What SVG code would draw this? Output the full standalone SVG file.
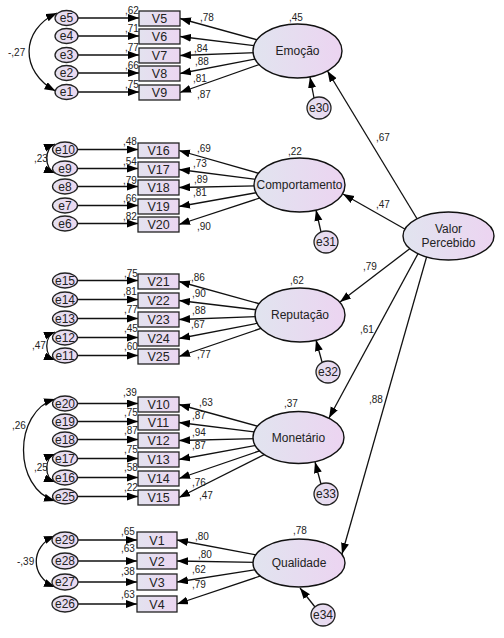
<svg xmlns="http://www.w3.org/2000/svg" width="504" height="638" viewBox="0 0 504 638">
<defs>
<linearGradient id="latG" x1="0" y1="0" x2="1" y2="0"><stop offset="0" stop-color="#e1e4ef"/><stop offset="1" stop-color="#ecd4f1"/></linearGradient>
<linearGradient id="boxG" x1="0" y1="0" x2="1" y2="0"><stop offset="0" stop-color="#e3e2ef"/><stop offset="1" stop-color="#ebd6f1"/></linearGradient>
<linearGradient id="errG" x1="0" y1="0" x2="1" y2="0"><stop offset="0" stop-color="#e4e0ef"/><stop offset="1" stop-color="#ebd8f1"/></linearGradient>
<marker id="ah" markerUnits="userSpaceOnUse" markerWidth="12" markerHeight="9" refX="11" refY="4" orient="auto-start-reverse"><path d="M0,0 L11,4 L0,8 z" fill="#000"/></marker>
</defs>
<style>
.c{fill:none;stroke:#111;stroke-width:1.3;marker-end:url(#ah)}
.cv{fill:none;stroke:#111;stroke-width:1.3;marker-start:url(#ah);marker-end:url(#ah)}
.lat{fill:url(#latG);stroke:#111;stroke-width:1.4}
.box{fill:url(#boxG);stroke:#222;stroke-width:1.3}
.err{fill:url(#errG);stroke:#222;stroke-width:1.3}
text{font-family:"Liberation Sans",Arial,sans-serif;fill:#222}
.lt{font-size:12px;text-anchor:middle}
.bt{font-size:12.5px;text-anchor:middle}
.et{font-size:12px;text-anchor:middle}
.n{font-size:10px}
</style>
<rect width="504" height="638" fill="#fff"/>
<g id="connectors">
<path class="c" d="M78,18 H139"/>
<path class="c" d="M78,36 H139"/>
<path class="c" d="M78,55 H139"/>
<path class="c" d="M78,73 H139"/>
<path class="c" d="M78,92 H139"/>
<path class="c" d="M297.5,51 L180,18.5"/>
<path class="c" d="M297.5,51 L180,36.5"/>
<path class="c" d="M297.5,51 L180,55.5"/>
<path class="c" d="M297.5,51 L180,73.5"/>
<path class="c" d="M297.5,51 L180,92.5"/>
<path class="cv" d="M57,13 C20,30 20,72 55.5,91"/>
<path class="c" d="M77.5,149.5 H138"/>
<path class="c" d="M77.5,168.5 H138"/>
<path class="c" d="M77.5,186.5 H138"/>
<path class="c" d="M77.5,205.5 H138"/>
<path class="c" d="M77.5,223.5 H138"/>
<path class="c" d="M299.5,185 L179,150.5"/>
<path class="c" d="M299.5,185 L179,169.5"/>
<path class="c" d="M299.5,185 L179,187.5"/>
<path class="c" d="M299.5,185 L179,206.5"/>
<path class="c" d="M299.5,185 L179,224.5"/>
<path class="cv" d="M55,144 C44,148 44,169 55,173"/>
<path class="c" d="M77.5,280.5 H138"/>
<path class="c" d="M77.5,299.5 H138"/>
<path class="c" d="M77.5,318.5 H138"/>
<path class="c" d="M77.5,337.5 H138"/>
<path class="c" d="M77.5,355.5 H138"/>
<path class="c" d="M300,315 L179,281.5"/>
<path class="c" d="M300,315 L179,300.5"/>
<path class="c" d="M300,315 L179,319.5"/>
<path class="c" d="M300,315 L179,338.5"/>
<path class="c" d="M300,315 L179,356.5"/>
<path class="cv" d="M55,332 C44,336 44,356 55,360"/>
<path class="c" d="M77.5,403.5 H138"/>
<path class="c" d="M77.5,421.5 H138"/>
<path class="c" d="M77.5,439.5 H138"/>
<path class="c" d="M77.5,458.5 H138"/>
<path class="c" d="M77.5,477.5 H138"/>
<path class="c" d="M77.5,496.5 H138"/>
<path class="c" d="M298.5,437.5 L179,404.5"/>
<path class="c" d="M298.5,437.5 L179,422.5"/>
<path class="c" d="M298.5,437.5 L179,440.5"/>
<path class="c" d="M298.5,437.5 L179,459.5"/>
<path class="c" d="M298.5,437.5 L179,478.5"/>
<path class="c" d="M298.5,437.5 L179,497.5"/>
<path class="cv" d="M55,399 C13,412 13,488 55,501"/>
<path class="cv" d="M55,454 C44,458 44,478 55,482"/>
<path class="c" d="M78,540 H137"/>
<path class="c" d="M78,561 H137"/>
<path class="c" d="M78,582 H137"/>
<path class="c" d="M78,604 H137"/>
<path class="c" d="M299,563 L177,540"/>
<path class="c" d="M299,563 L177,561"/>
<path class="c" d="M299,563 L177,582"/>
<path class="c" d="M299,563 L177,604"/>
<path class="cv" d="M55,536 C30,546 30,577 55,587"/>
<path class="c" d="M419,222 L327.5,71"/>
<path class="c" d="M410,232 L343,194"/>
<path class="c" d="M412,247 L340,302"/>
<path class="c" d="M420,250 L329,418"/>
<path class="c" d="M428,252 L342,554"/>
<path class="c" d="M314,98 L310,77"/>
<path class="c" d="M321,232 L316,210"/>
<path class="c" d="M322,362 L316,340"/>
<path class="c" d="M321,484 L315,462"/>
<path class="c" d="M315,607 L300,588"/>
</g>
<g id="labels">
<text class="n" x="125" y="14">,62</text>
<text class="n" x="125" y="32">,71</text>
<text class="n" x="125" y="51">,77</text>
<text class="n" x="125" y="69">,66</text>
<text class="n" x="125" y="88">,75</text>
<text class="n" x="200" y="21">,78</text>
<text class="n" x="194" y="52">,84</text>
<text class="n" x="195" y="65">,88</text>
<text class="n" x="193" y="82">,81</text>
<text class="n" x="197" y="98">,87</text>
<text class="n" x="8" y="56">-,27</text>
<text class="n" x="289" y="21">,45</text>
<text class="n" x="123" y="145">,48</text>
<text class="n" x="123" y="165">,54</text>
<text class="n" x="123" y="184">,79</text>
<text class="n" x="123" y="202">,66</text>
<text class="n" x="123" y="220">,82</text>
<text class="n" x="197" y="152">,69</text>
<text class="n" x="193" y="167">,73</text>
<text class="n" x="194" y="183">,89</text>
<text class="n" x="193" y="196">,81</text>
<text class="n" x="197" y="230">,90</text>
<text class="n" x="34" y="162">,23</text>
<text class="n" x="288" y="155">,22</text>
<text class="n" x="124" y="277">,75</text>
<text class="n" x="123" y="295">,81</text>
<text class="n" x="124" y="313">,77</text>
<text class="n" x="124" y="332">,45</text>
<text class="n" x="124" y="350">,60</text>
<text class="n" x="191" y="281">,86</text>
<text class="n" x="192" y="297">,90</text>
<text class="n" x="192" y="314">,88</text>
<text class="n" x="191" y="328">,67</text>
<text class="n" x="197" y="358">,77</text>
<text class="n" x="32" y="349">,47</text>
<text class="n" x="290" y="284">,62</text>
<text class="n" x="123" y="396">,39</text>
<text class="n" x="124" y="416">,75</text>
<text class="n" x="124" y="434">,87</text>
<text class="n" x="124" y="453">,75</text>
<text class="n" x="124" y="471">,58</text>
<text class="n" x="124" y="491">,22</text>
<text class="n" x="199" y="406">,63</text>
<text class="n" x="192" y="419">,87</text>
<text class="n" x="192" y="436">,94</text>
<text class="n" x="192" y="449">,87</text>
<text class="n" x="192" y="486">,76</text>
<text class="n" x="199" y="499">,47</text>
<text class="n" x="12" y="429">,26</text>
<text class="n" x="34" y="471">,25</text>
<text class="n" x="284" y="407">,37</text>
<text class="n" x="121" y="535">,65</text>
<text class="n" x="121" y="552">,63</text>
<text class="n" x="121" y="575">,38</text>
<text class="n" x="121" y="598">,63</text>
<text class="n" x="195" y="540">,80</text>
<text class="n" x="198" y="558">,80</text>
<text class="n" x="192" y="573">,62</text>
<text class="n" x="192" y="588">,79</text>
<text class="n" x="17" y="565">-,39</text>
<text class="n" x="293" y="534">,78</text>
<text class="n" x="376" y="141">,67</text>
<text class="n" x="376" y="208">,47</text>
<text class="n" x="363" y="270">,79</text>
<text class="n" x="360" y="333">,61</text>
<text class="n" x="369" y="403">,88</text>
</g>
<g id="e5"><ellipse class="err" cx="66.5" cy="18" rx="11.5" ry="7.5"/><text class="et" x="66.5" y="22">e5</text></g>
<g id="e4"><ellipse class="err" cx="66.5" cy="36" rx="11.5" ry="7.5"/><text class="et" x="66.5" y="40">e4</text></g>
<g id="e3"><ellipse class="err" cx="66.5" cy="55" rx="11.5" ry="7.5"/><text class="et" x="66.5" y="59">e3</text></g>
<g id="e2"><ellipse class="err" cx="66.5" cy="73" rx="11.5" ry="7.5"/><text class="et" x="66.5" y="77">e2</text></g>
<g id="e1"><ellipse class="err" cx="66.5" cy="92" rx="11.5" ry="7.5"/><text class="et" x="66.5" y="96">e1</text></g>
<g id="V5"><rect class="box" x="139" y="11" width="41" height="15"/><text class="bt" x="159.5" y="23">V5</text></g>
<g id="V6"><rect class="box" x="139" y="29" width="41" height="15"/><text class="bt" x="159.5" y="41">V6</text></g>
<g id="V7"><rect class="box" x="139" y="48" width="41" height="15"/><text class="bt" x="159.5" y="60">V7</text></g>
<g id="V8"><rect class="box" x="139" y="66" width="41" height="15"/><text class="bt" x="159.5" y="78">V8</text></g>
<g id="V9"><rect class="box" x="139" y="85" width="41" height="15"/><text class="bt" x="159.5" y="97">V9</text></g>
<g id="Emocao"><ellipse class="lat" cx="297.5" cy="51" rx="44.5" ry="27"/><text class="lt" x="297.5" y="55">Emoção</text></g>
<g id="e30"><ellipse class="err" cx="319" cy="108" rx="12" ry="11"/><text class="et" x="319" y="112">e30</text></g>
<g id="e10"><ellipse class="err" cx="65" cy="149.5" rx="12.5" ry="7.5"/><text class="et" x="65" y="153.5">e10</text></g>
<g id="e9"><ellipse class="err" cx="65" cy="168.5" rx="12.5" ry="7.5"/><text class="et" x="65" y="172.5">e9</text></g>
<g id="e8"><ellipse class="err" cx="65" cy="186.5" rx="12.5" ry="7.5"/><text class="et" x="65" y="190.5">e8</text></g>
<g id="e7"><ellipse class="err" cx="65" cy="205.5" rx="12.5" ry="7.5"/><text class="et" x="65" y="209.5">e7</text></g>
<g id="e6"><ellipse class="err" cx="65" cy="223.5" rx="12.5" ry="7.5"/><text class="et" x="65" y="227.5">e6</text></g>
<g id="V16"><rect class="box" x="138" y="143" width="41" height="15"/><text class="bt" x="158.5" y="155">V16</text></g>
<g id="V17"><rect class="box" x="138" y="162" width="41" height="15"/><text class="bt" x="158.5" y="174">V17</text></g>
<g id="V18"><rect class="box" x="138" y="180" width="41" height="15"/><text class="bt" x="158.5" y="192">V18</text></g>
<g id="V19"><rect class="box" x="138" y="199" width="41" height="15"/><text class="bt" x="158.5" y="211">V19</text></g>
<g id="V20"><rect class="box" x="138" y="217" width="41" height="15"/><text class="bt" x="158.5" y="229">V20</text></g>
<g id="Comportamento"><ellipse class="lat" cx="299.5" cy="185" rx="45.5" ry="27"/><text class="lt" x="299.5" y="189">Comportamento</text></g>
<g id="e31"><ellipse class="err" cx="326" cy="242" rx="12" ry="11"/><text class="et" x="326" y="246">e31</text></g>
<g id="e15"><ellipse class="err" cx="65" cy="280.5" rx="12.5" ry="7.5"/><text class="et" x="65" y="284.5">e15</text></g>
<g id="e14"><ellipse class="err" cx="65" cy="299.5" rx="12.5" ry="7.5"/><text class="et" x="65" y="303.5">e14</text></g>
<g id="e13"><ellipse class="err" cx="65" cy="318.5" rx="12.5" ry="7.5"/><text class="et" x="65" y="322.5">e13</text></g>
<g id="e12"><ellipse class="err" cx="65" cy="337.5" rx="12.5" ry="7.5"/><text class="et" x="65" y="341.5">e12</text></g>
<g id="e11"><ellipse class="err" cx="65" cy="355.5" rx="12.5" ry="7.5"/><text class="et" x="65" y="359.5">e11</text></g>
<g id="V21"><rect class="box" x="138" y="274" width="41" height="15"/><text class="bt" x="158.5" y="286">V21</text></g>
<g id="V22"><rect class="box" x="138" y="293" width="41" height="15"/><text class="bt" x="158.5" y="305">V22</text></g>
<g id="V23"><rect class="box" x="138" y="312" width="41" height="15"/><text class="bt" x="158.5" y="324">V23</text></g>
<g id="V24"><rect class="box" x="138" y="331" width="41" height="15"/><text class="bt" x="158.5" y="343">V24</text></g>
<g id="V25"><rect class="box" x="138" y="349" width="41" height="15"/><text class="bt" x="158.5" y="361">V25</text></g>
<g id="Reputacao"><ellipse class="lat" cx="300" cy="315" rx="45" ry="27"/><text class="lt" x="300" y="319">Reputação</text></g>
<g id="e32"><ellipse class="err" cx="328" cy="372" rx="12" ry="11"/><text class="et" x="328" y="376">e32</text></g>
<g id="e20"><ellipse class="err" cx="65" cy="403.5" rx="12.5" ry="7.5"/><text class="et" x="65" y="407.5">e20</text></g>
<g id="e19"><ellipse class="err" cx="65" cy="421.5" rx="12.5" ry="7.5"/><text class="et" x="65" y="425.5">e19</text></g>
<g id="e18"><ellipse class="err" cx="65" cy="439.5" rx="12.5" ry="7.5"/><text class="et" x="65" y="443.5">e18</text></g>
<g id="e17"><ellipse class="err" cx="65" cy="458.5" rx="12.5" ry="7.5"/><text class="et" x="65" y="462.5">e17</text></g>
<g id="e16"><ellipse class="err" cx="65" cy="477.5" rx="12.5" ry="7.5"/><text class="et" x="65" y="481.5">e16</text></g>
<g id="e25"><ellipse class="err" cx="65" cy="496.5" rx="12.5" ry="7.5"/><text class="et" x="65" y="500.5">e25</text></g>
<g id="V10"><rect class="box" x="138" y="397" width="41" height="15"/><text class="bt" x="158.5" y="409">V10</text></g>
<g id="V11"><rect class="box" x="138" y="415" width="41" height="15"/><text class="bt" x="158.5" y="427">V11</text></g>
<g id="V12"><rect class="box" x="138" y="433" width="41" height="15"/><text class="bt" x="158.5" y="445">V12</text></g>
<g id="V13"><rect class="box" x="138" y="452" width="41" height="15"/><text class="bt" x="158.5" y="464">V13</text></g>
<g id="V14"><rect class="box" x="138" y="471" width="41" height="15"/><text class="bt" x="158.5" y="483">V14</text></g>
<g id="V15"><rect class="box" x="138" y="490" width="41" height="15"/><text class="bt" x="158.5" y="502">V15</text></g>
<g id="Monetario"><ellipse class="lat" cx="298.5" cy="437.5" rx="45.5" ry="26"/><text class="lt" x="298.5" y="441.5">Monetário</text></g>
<g id="e33"><ellipse class="err" cx="326" cy="494" rx="12" ry="11"/><text class="et" x="326" y="498">e33</text></g>
<g id="e29"><ellipse class="err" cx="65" cy="540" rx="13" ry="8"/><text class="et" x="65" y="544">e29</text></g>
<g id="e28"><ellipse class="err" cx="65" cy="561" rx="13" ry="8"/><text class="et" x="65" y="565">e28</text></g>
<g id="e27"><ellipse class="err" cx="65" cy="582" rx="13" ry="8"/><text class="et" x="65" y="586">e27</text></g>
<g id="e26"><ellipse class="err" cx="65" cy="604" rx="13" ry="8"/><text class="et" x="65" y="608">e26</text></g>
<g id="V1"><rect class="box" x="137" y="532" width="40" height="16"/><text class="bt" x="157" y="544.5">V1</text></g>
<g id="V2"><rect class="box" x="137" y="553" width="40" height="16"/><text class="bt" x="157" y="565.5">V2</text></g>
<g id="V3"><rect class="box" x="137" y="574" width="40" height="16"/><text class="bt" x="157" y="586.5">V3</text></g>
<g id="V4"><rect class="box" x="137" y="596" width="40" height="16"/><text class="bt" x="157" y="608.5">V4</text></g>
<g id="Qualidade"><ellipse class="lat" cx="299" cy="563" rx="46" ry="24"/><text class="lt" x="299" y="567">Qualidade</text></g>
<g id="e34"><ellipse class="err" cx="323" cy="615" rx="12" ry="11"/><text class="et" x="323" y="619">e34</text></g>
<g id="ValorPercebido"><ellipse class="lat" cx="448.5" cy="236" rx="45.5" ry="24"/><text class="lt" x="448.5" y="233">Valor</text><text class="lt" x="448.5" y="247">Percebido</text></g>
</svg>
